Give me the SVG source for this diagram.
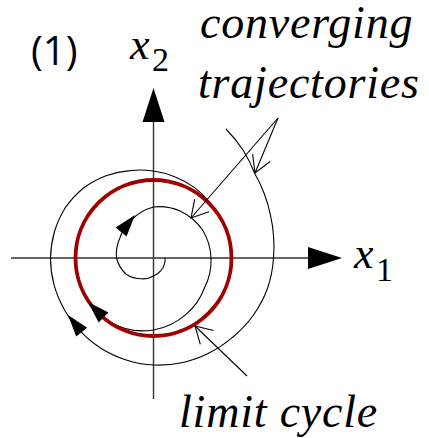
<svg xmlns="http://www.w3.org/2000/svg" xmlns:xlink="http://www.w3.org/1999/xlink" width="429" height="438" viewBox="0 0 429 438">
<style>
.axis{stroke:#333;stroke-width:1.4;fill:none}
.traj{stroke:#000;stroke-width:1.1;fill:none}
.cycle{stroke:#a00000;stroke-width:3.8;fill:none}
.ptr{stroke:#000;stroke-width:1.1;fill:none}
text{fill:#000}
.it{font-family:'Liberation Serif','Times New Roman',Times,serif;font-style:italic}
.rm{font-family:'Liberation Serif','Times New Roman',Times,serif}
.big{font-size:46px;letter-spacing:0.8px}
</style>
<defs>
<path id="ah" d="M0,0 L-22,-7 L-22,7 Z" fill="#000"/>
<path id="axh" d="M0,0 L-34,-11 L-34,11 Z" fill="#000"/>
<marker id="open" markerUnits="userSpaceOnUse" markerWidth="40" markerHeight="40" refX="0" refY="0" orient="auto" overflow="visible">
<path d="M-16.5,-9.5 L0,0 L-16.5,9.5" fill="none" stroke="#000" stroke-width="1.1"/>
</marker>
</defs>
<g id="axes">
<line class="axis" x1="153.5" y1="118" x2="153.5" y2="399"/>
<line class="axis" x1="11" y1="258" x2="312" y2="258"/>
<use xlink:href="#axh" transform="translate(153.5,88) rotate(-90)"/>
<use xlink:href="#axh" transform="translate(342,258)"/>
</g>
<g id="outer-trajectory">
<path class="traj" d="M226,129 A144 144 0 0 1 243.5,150.8 A136 136 0 0 1 254.6,173.2 A130 130 0 0 1 264.4,194 A126 126 0 0 1 270.5,215.4 A123 123 0 0 1 273.6,236.8 A121 121 0 0 1 273.5,258 A119 119 0 0 1 267.5,288.5 A116.5 116.5 0 0 1 253.1,315.5 A113.5 113.5 0 0 1 232.7,337.2 A111 111 0 0 1 208.5,353.3 A109 109 0 0 1 181.6,362.8 A108 108 0 0 1 153.5,365 A106 106 0 0 1 126.2,359.9 A105 105 0 0 1 101.3,348.5 A104 104 0 0 1 80.3,331.2 A103 103 0 0 1 64.3,309.5 A103 103 0 0 1 54,284.7 A103 103 0 0 1 50.5,258 A103 103 0 0 1 54.5,231.5 A102 102 0 0 1 65.6,207.3 A100 100 0 0 1 83.5,188 A97 97 0 0 1 106,175.7 A93 93 0 0 1 130.1,170.6 A89 89 0 0 1 153.5,171 A85.5 85.5 0 0 1 175.2,176.9 A83 83 0 0 1 194.3,187.4 A80 80 0 0 1 209.4,202.1 A78.5 78.5 0 0 1 221,219"/>
<use xlink:href="#ah" transform="translate(68,315) rotate(-128.5)"/>
</g>
<g id="inner-trajectory">
<path class="traj" d="M165,258 A12 12 0 0 1 164.3,264.3 A13.5 13.5 0 0 1 160.8,270.6 A16 16 0 0 1 153.5,276 A21 21 0 0 1 141.5,278.8 A28 28 0 0 1 125.8,274 A34.5 34.5 0 0 1 116.5,258 A38 38 0 0 1 119.7,238.5 A41.5 41.5 0 0 1 131.5,219.9 A47.5 47.5 0 0 1 153.5,207 A52.5 52.5 0 0 1 180.5,211.2 A55 55 0 0 1 202.4,229.75 A57 57 0 0 1 211,258 A58 58 0 0 1 204.6,287.5 A62 62 0 0 1 186,314.3 A68.5 68.5 0 0 1 153.5,330 A73.5 73.5 0 0 1 134.1,330.4 A76 76 0 0 1 115,324.7 A77.5 77.5 0 0 1 98.3,313.2"/>
<use xlink:href="#ah" transform="translate(135,215) rotate(-50.8)"/>
</g>
<g id="limit-cycle">
<circle class="cycle" cx="153.5" cy="258" r="78"/>
<use xlink:href="#ah" transform="translate(88,302) rotate(-135)"/>
</g>
<g id="connectors">
<line class="ptr" x1="278" y1="118" x2="255" y2="173" marker-end="url(#open)"/>
<line class="ptr" x1="278" y1="118" x2="191" y2="218" marker-end="url(#open)"/>
<line class="ptr" x1="247" y1="376" x2="195" y2="326" marker-end="url(#open)"/>
</g>
<g id="label-1"><text style="font-family:'Open Sans','Liberation Sans',sans-serif;font-size:40px" x="31" y="65">(1)</text></g>
<g id="label-x2"><text class="it" font-size="44" x="130" y="59">x</text><text class="rm" font-size="34" x="152" y="71">2</text></g>
<g id="label-x1"><text class="it" font-size="44" x="354" y="268">x</text><text class="rm" font-size="34" x="376" y="281">1</text></g>
<g id="label-converging"><text class="it big" x="200" y="38">converging</text><text class="it big" x="198" y="98">trajectories</text></g>
<g id="label-limit"><text class="it big" x="179" y="427">limit cycle</text></g>
</svg>
